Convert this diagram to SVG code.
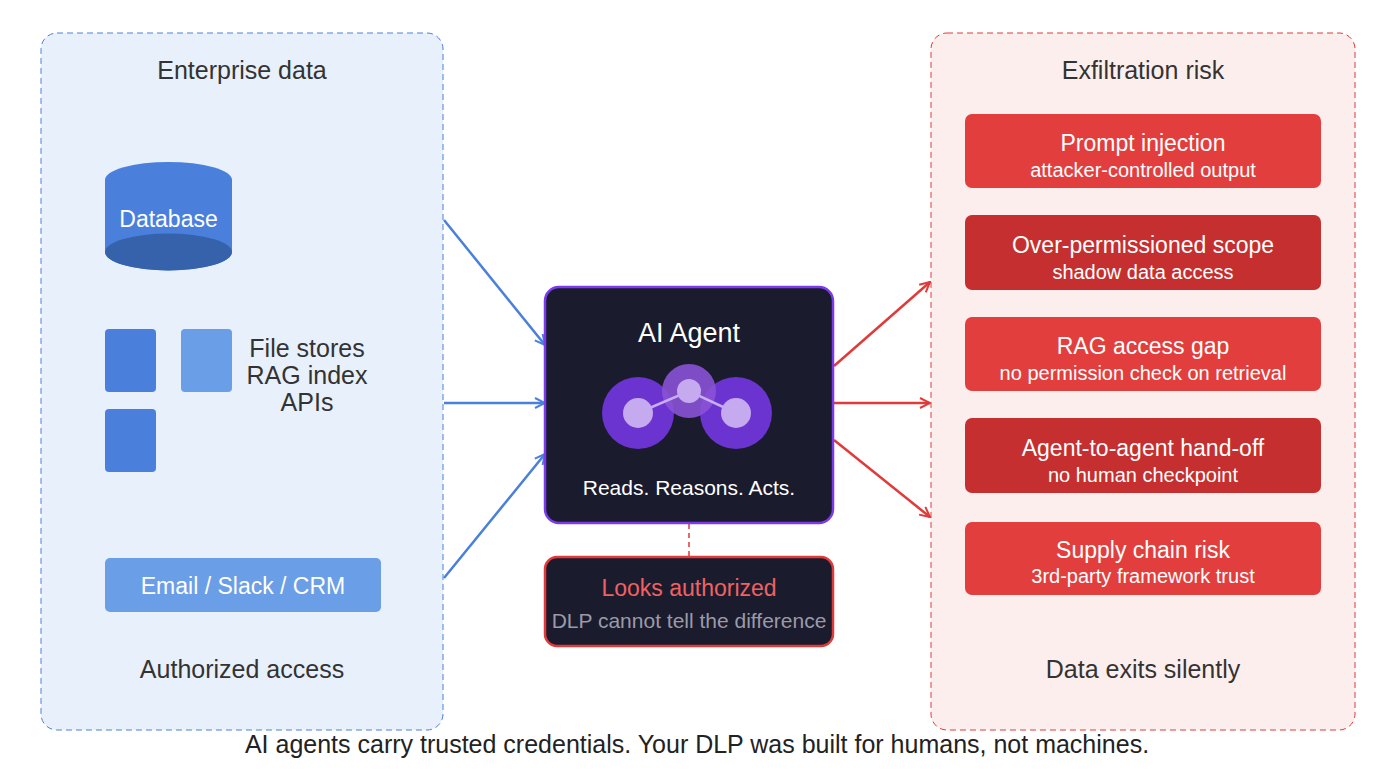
<svg xmlns="http://www.w3.org/2000/svg" width="1394" height="781" viewBox="0 0 1394 781">
<style>
text{font-family:"Liberation Sans",Arial,sans-serif;text-anchor:middle}
.h{font-size:25px;fill:#333}
.w{fill:#fff}
.rt{font-size:23px;fill:#fff}
.rs{font-size:20px;fill:#fff}
</style>
<defs>
<marker id="ab" viewBox="0 0 12 12" refX="11" refY="6" markerWidth="12" markerHeight="12" markerUnits="userSpaceOnUse" orient="auto"><path d="M1 1L11 6L1 11" fill="none" stroke="#4a80dc" stroke-width="2"/></marker>
<marker id="ar" viewBox="0 0 12 12" refX="11" refY="6" markerWidth="12" markerHeight="12" markerUnits="userSpaceOnUse" orient="auto"><path d="M1 1L11 6L1 11" fill="none" stroke="#e03a3a" stroke-width="2"/></marker>
</defs>
<rect width="1394" height="781" fill="#fff"/>
<g id="left-panel">
<rect x="41" y="33" width="402" height="697" rx="16" fill="#e8f0fc" stroke="#4a80dc" stroke-dasharray="6 4"/>
<text x="242" y="79" class="h">Enterprise data</text>
<text x="242" y="678" class="h">Authorized access</text>
</g>
<g id="database">
<path d="M105 180V252A63.5 18.5 0 0 0 232 252V180Z" fill="#4a80dc"/>
<ellipse cx="168.5" cy="180" rx="63.5" ry="18" fill="#4a80dc"/>
<ellipse cx="168.5" cy="252" rx="63.5" ry="18.5" fill="#3562ab"/>
<text x="168.5" y="227" class="w" font-size="23">Database</text>
</g>
<g id="files">
<rect x="105" y="329" width="51" height="63" rx="4" fill="#4a80dc"/>
<rect x="181" y="329" width="51" height="63" rx="4" fill="#6a9ee6"/>
<rect x="105" y="409" width="51" height="63" rx="4" fill="#4a80dc"/>
<text x="307" y="357" class="h">File stores</text>
<text x="307" y="384" class="h">RAG index</text>
<text x="307" y="411" class="h">APIs</text>
</g>
<g id="email">
<rect x="105" y="558" width="276" height="54" rx="5" fill="#6a9ee6"/>
<text x="243" y="594" class="w" font-size="23">Email / Slack / CRM</text>
</g>
<g id="right-panel">
<rect x="931" y="33" width="424" height="697" rx="16" fill="#fdeeee" stroke="#e03a3a" stroke-dasharray="6 4"/>
<text x="1143" y="79" class="h">Exfiltration risk</text>
<text x="1143" y="678" class="h">Data exits silently</text>
</g>
<g id="r1"><rect x="965" y="114" width="356" height="74" rx="7" fill="#e33e3e"/><text x="1143" y="151" class="rt">Prompt injection</text><text x="1143" y="177" class="rs">attacker-controlled output</text></g>
<g id="r2"><rect x="965" y="215" width="356" height="75" rx="7" fill="#c62f2f"/><text x="1143" y="253" class="rt">Over-permissioned scope</text><text x="1143" y="279" class="rs">shadow data access</text></g>
<g id="r3"><rect x="965" y="317" width="356" height="74" rx="7" fill="#e33e3e"/><text x="1143" y="354" class="rt">RAG access gap</text><text x="1143" y="380" class="rs">no permission check on retrieval</text></g>
<g id="r4"><rect x="965" y="418" width="356" height="75" rx="7" fill="#c62f2f"/><text x="1143" y="456" class="rt">Agent-to-agent hand-off</text><text x="1143" y="482" class="rs">no human checkpoint</text></g>
<g id="r5"><rect x="965" y="522" width="356" height="73" rx="7" fill="#e33e3e"/><text x="1143" y="558" class="rt">Supply chain risk</text><text x="1143" y="583" class="rs">3rd-party framework trust</text></g>
<g id="connectors" fill="none" stroke-width="2.5">
<path d="M444 220L545 345" stroke="#4a80dc" marker-end="url(#ab)"/>
<path d="M444 403H545" stroke="#4a80dc" marker-end="url(#ab)"/>
<path d="M444 578L545 454" stroke="#4a80dc" marker-end="url(#ab)"/>
<path d="M834 366L930 282" stroke="#e03a3a" marker-end="url(#ar)"/>
<path d="M834 403H930" stroke="#e03a3a" marker-end="url(#ar)"/>
<path d="M834 440L930 517" stroke="#e03a3a" marker-end="url(#ar)"/>
<path d="M689 524V557" stroke="#e03a3a" stroke-width="1.5" stroke-dasharray="5 4"/>
</g>
<g id="agent">
<rect x="545" y="287" width="288" height="236" rx="14" fill="#1b1b2e" stroke="#7c3aed" stroke-width="2.5"/>
<text x="689" y="342" class="w" font-size="27">AI Agent</text>
<circle cx="638" cy="413" r="36" fill="#6b34d0"/>
<circle cx="736" cy="413" r="36" fill="#6b34d0"/>
<circle cx="689" cy="391" r="27" fill="#8a52d6" fill-opacity="0.9"/>
<path d="M638 413L689 391L736 413" stroke="#c8aef2" stroke-width="2.5" fill="none"/>
<circle cx="638" cy="413" r="15" fill="#c5aaf0"/>
<circle cx="689" cy="391" r="12" fill="#c5aaf0"/>
<circle cx="736" cy="413" r="15" fill="#c5aaf0"/>
<text x="689" y="495" class="w" font-size="21">Reads. Reasons. Acts.</text>
</g>
<g id="authorized">
<rect x="545" y="557" width="288" height="89" rx="12" fill="#1b1b2e" stroke="#e03a3a" stroke-width="2.5"/>
<text x="689" y="596" font-size="23" fill="#f06262">Looks authorized</text>
<text x="689" y="628" font-size="21" fill="#9a9aa8">DLP cannot tell the difference</text>
</g>
<text x="697" y="753" font-size="25" fill="#222">AI agents carry trusted credentials. Your DLP was built for humans, not machines.</text>
</svg>
